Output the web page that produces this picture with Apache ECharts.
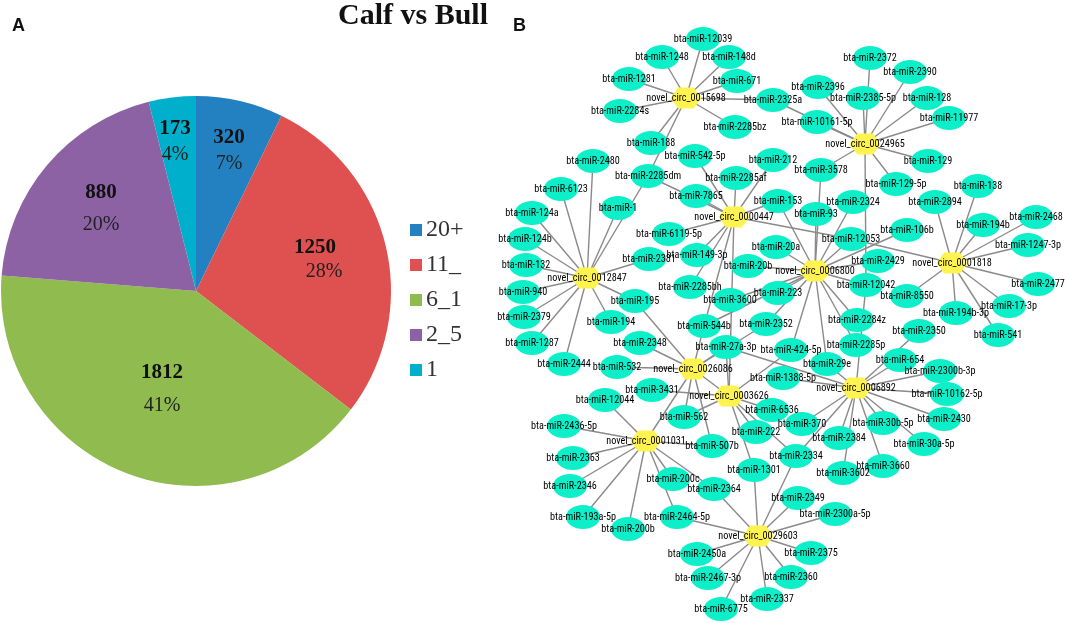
<!DOCTYPE html>
<html><head><meta charset="utf-8">
<style>html,body{margin:0;padding:0;background:#fff}#c{width:1065px;height:623px}</style>
<script src="https://cdn.jsdelivr.net/npm/echarts@6/dist/echarts.min.js"></script>
</head><body><div id="c"></div>
<script>
// Panel A data
const pieCategories = ['20+','11_','6_1','2_5','1'];
const pieValues = [320,1250,1812,880,173];
// Panel B data: network nodes [name, x, y]
const circNodes = [
['0015698',686,98],['0024965',865,144],['0000447',734,217],['0012847',587,278],['0006800',815,271],
['0001818',952,263],['0026086',693,369],['0003626',729,396],['0006892',856,388],['0001031',646,441],['0029603',758,536]];
const mirNodes = [
['12039',703,39],['1248',662,57],['148d',729,57],['1281',629,79],['671',737,81],['2325a',773,100],['2284s',620,111],
['2285bz',735,127],['188',651,143],['542-5p',695,156],['212',773,160],['2480',593,161],['2285dm',648,176],['2285af',736,178],
['6123',561,189],['7865',696,196],['153',778,201],['1',618,208],['2372',870,58],['2390',910,72],['2396',818,87],
['2385-5p',863,98],['128',927,98],['11977',949,118],['10161-5p',817,122],['129',928,161],['3578',821,170],['129-5p',896,184],
['138',978,186],['2894',935,202],['93',816,214],['2324',853,202],['194b',983,225],['2468',1036,217],['106b',907,230],
['12053',851,239],['124a',532,213],['124b',525,239],['6119-5p',669,234],['2381',649,259],['149-3p',697,255],['132',526,265],
['20b',748,266],['940',523,292],['2285bh',690,287],['3600',730,300],['195',635,301],['2379',524,317],['194',611,322],
['544b',704,326],['2348',640,343],['1287',532,343],['2352',766,324],['27a-3p',726,347],['2444',564,364],['532',617,367],
['3431',652,390],['12044',605,400],['1247-3p',1028,245],['20a',776,247],['2429',878,261],['2477',1038,284],['12042',866,285],
['223',778,293],['8550',907,296],['17-3p',1009,306],['2284z',857,320],['194b-3p',956,313],['2350',919,331],['541',998,335],
['2285p',856,345],['424-5p',791,350],['29e',827,364],['654',900,360],['2300b-3p',940,371],['1388-5p',783,378],['10162-5p',947,394],
['6536',772,410],['370',802,424],['2430',944,419],['30b-5p',883,423],['2384',839,438],['30a-5p',924,444],['222',756,432],
['507b',712,446],['2334',796,456],['1301',754,470],['3660',883,466],['3602',843,473],['2364',714,489],['2349',798,498],
['2300a-5p',835,514],['2450a',697,554],['2375',811,553],['2467-3p',708,578],['2360',791,577],['2337',767,599],['6775',721,609],
['562',684,417],['2436-5p',564,426],['2363',573,458],['200c',673,479],['2346',570,486],['193a-5p',583,517],['200b',628,529],['2464-5p',677,517]];
const hubToMir = {
'0015698':['12039','1248','148d','1281','671','2325a','2284s','2285bz','188','2285dm'],
'0024965':['2372','2390','2396','2385-5p','128','11977','10161-5p','129','3578','129-5p','2325a','12042'],
'0000447':['2285af','212','153','542-5p','7865','2285dm','6119-5p','149-3p','2285bh','544b','12053'],
'0012847':['2480','6123','124a','124b','132','940','2379','1287','2444','194','195','2381','1','2285dm'],
'0006800':['153','93','3578','2324','12053','20a','20b','106b','2429','12042','2284z','2285p','29e','424-5p','223','3600','544b','2352'],
'0001818':['2894','138','194b','2468','1247-3p','2477','17-3p','541','194b-3p','8550','12053'],
'0026086':['195','2348','532','27a-3p','544b','2352','562','507b'],
'0003626':['3431','562','6536','222','2334','1301','424-5p','27a-3p'],
'0006892':['12042','29e','654','2350','2300b-3p','10162-5p','2430','30b-5p','30a-5p','2384','3602','3660','370','2334','1388-5p','27a-3p'],
'0001031':['12044','2436-5p','2363','2346','193a-5p','200b','200c','2464-5p','2364','507b'],
'0029603':['1301','2334','2349','2300a-5p','2375','2360','2337','6775','2467-3p','2450a','2364','2464-5p']};
const hubToHub = [['0000447','0003626'],['0026086','0003626'],['0026086','0001031']];

// Presentation
const pieColors = ['#2481C1','#DF5050','#8FBB4F','#8C62A5','#00AFCB'];
const pieLabelAt = [[229,151],[315,259],[162,393],[101,212],[175,142]];
const piePctLine = [26,22,40,38,26];
const piePctPad = [0,18,0,0,0];
const serif = '"Liberation Serif","Times New Roman",serif';
const narrow = '"Roboto Condensed","Liberation Sans",Arial,sans-serif';
const cN = n => 'novel_circ_' + n, mN = n => 'bta-miR-' + n;
const hex = 'path://M7 0L21 0L28 10L21 20L7 20L0 10Z';
const ell = 'path://M0 12A16.5 12 0 1 1 33 12A16.5 12 0 1 1 0 12Z';
const nodes = [
 ...mirNodes.map(d => ({name:mN(d[0]),value:[d[1],d[2]],symbol:ell,symbolKeepAspect:false,symbolSize:[34,24],itemStyle:{color:'#0CEFC8'}})),
 ...circNodes.map(d => ({name:cN(d[0]),value:[d[1],d[2]],symbol:hex,symbolKeepAspect:false,symbolSize:[31,21],itemStyle:{color:'#FFF44F'}}))];
const links = [];
Object.keys(hubToMir).forEach(h => hubToMir[h].forEach(m => links.push({source:cN(h),target:mN(m)})));
hubToHub.forEach(p => links.push({source:cN(p[0]),target:cN(p[1])}));

const chart = echarts.init(document.getElementById('c'),null,{renderer:'canvas'});
chart.setOption({
 animation:false, backgroundColor:'#fff',
 title:[
  {text:'Calf vs Bull',left:333,top:-4,textStyle:{fontFamily:serif,fontWeight:'bold',fontSize:30,color:'#111'}},
  {text:'A',left:7,top:12,textStyle:{fontFamily:'"Liberation Sans",Arial',fontWeight:'bold',fontSize:18,color:'#111'}},
  {text:'B',left:508,top:12,textStyle:{fontFamily:'"Liberation Sans",Arial',fontWeight:'bold',fontSize:18,color:'#111'}}],
 legend:{orient:'vertical',left:405,top:213,itemWidth:12,itemHeight:12,itemGap:11,icon:'rect',
  data:pieCategories,textStyle:{fontFamily:serif,fontSize:24,color:'#333',padding:[0,0,0,-1]}},
 grid:{left:0,right:0,top:0,bottom:0},
 xAxis:{type:'value',min:0,max:1065,show:false},
 yAxis:{type:'value',min:0,max:623,inverse:true,show:false},
 color:pieColors,
 series:[
 {type:'pie',center:[196,291],radius:[0,195],startAngle:90,clockwise:true,percentPrecision:0,silent:true,
  data:pieCategories.map((c,i)=>({name:c,value:pieValues[i],
    label:{rich:{v:{fontFamily:serif,fontSize:21,fontWeight:'bold',color:'#111',lineHeight:26},
                 p:{fontFamily:serif,fontSize:20,color:'#222',lineHeight:piePctLine[i],padding:[0,0,0,piePctPad[i]]}}}})),
  label:{show:true,position:'inside',formatter:'{v|{c}}\n{p|{d}%}'},
  labelLine:{show:false},
  labelLayout:p=>({x:pieLabelAt[p.dataIndex][0],y:pieLabelAt[p.dataIndex][1],align:'center',verticalAlign:'middle'})},
 {type:'graph',coordinateSystem:'cartesian2d',silent:true,roam:false,data:nodes,links:links,
  lineStyle:{color:'#8a8a8a',width:1.4,opacity:1,curveness:0},
  label:{show:true,position:'inside',formatter:'{b}',fontFamily:narrow,fontSize:10.2,color:'#000'},
  emphasis:{disabled:true}}]
});
</script></body></html>
